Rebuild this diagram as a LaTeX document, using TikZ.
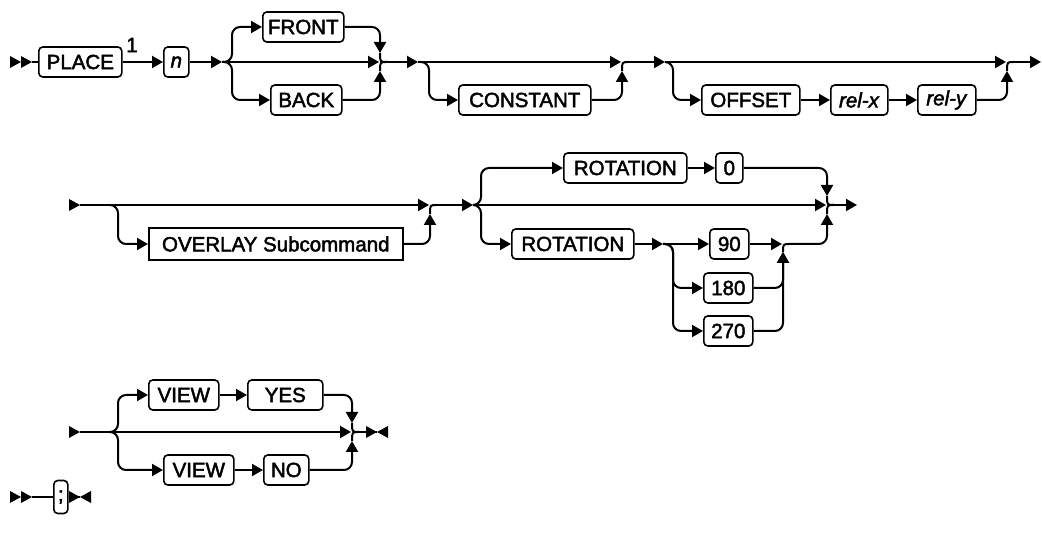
\documentclass[tikz,border=0pt]{standalone}
\usepackage{fontspec}
\setmainfont{Liberation Sans}[FakeBold=2.2]
\usetikzlibrary{arrows.meta,calc}

\tikzset{
	kw/.style={draw, line width=1.6pt, rounded corners=4pt, minimum height=30pt,
		inner sep=0pt, anchor=west, font=\fontsize{20.5}{23}\selectfont},
	subcmd/.style={kw, rounded corners=0pt, minimum height=32pt},
	rail/.style={line width=2pt},
	go/.style={rail, -{Triangle[length=11pt,width=12pt]}},
	turn/.style={go, rounded corners=8pt},
	tri/.pic={\fill (-11,-6) -- (0,0) -- (-11,6) -- cycle;}
}

\begin{document}
\begin{tikzpicture}[x=1pt, y=1pt]
	
	\useasboundingbox (0,0) rectangle (1042,548);
	
	% Fila 1: PLACE n FRONT/BACK CONSTANT OFFSET
	\node[kw, minimum width=83pt] (PLACE) at (38,486) {PLACE};
	\node[font=\fontsize{20.5}{23}\selectfont] (nota) at (132,503) {1};
	\node[kw, minimum width=25pt] (n) at (163,486) {\textit{n}};
	\node[kw, minimum width=81pt] (FRONT) at (262,521) {FRONT};
	\node[kw, minimum width=71pt] (BACK) at (270,448) {BACK};
	\node[kw, minimum width=132pt] (CONST) at (458,448) {CONSTANT};
	\node[kw, minimum width=98pt] (OFFSET) at (701,448) {OFFSET};
	\node[kw, minimum width=57pt] (relx) at (830,448) {\textit{rel-x}};
	\node[kw, minimum width=58pt] (rely) at (917,448) {\textit{rel-y}};
	
	\coordinate (s1) at (222,486);
	\coordinate (j1) at (380,486);
	\coordinate (s2) at (418,486);
	\coordinate (j2) at (622,486);
	\coordinate (s3) at (665,486);
	\coordinate (j3) at (1007,486);
	\coordinate (e1) at (1041,486);
	
	% Inicio
	\pic at (21,486) {tri};
	\pic at (32,486) {tri};
	\draw[rail] (32,486) -- (PLACE.west);
	\draw[go] (PLACE.east) -- (n.west);
	\draw[go] (n.east) -- (s1);
	
	% FRONT / BACK
	\draw[go] (s1) -- ($(j1)+(-1,0)$);
	\draw[turn] (s1) -- ++(10,0) |- (FRONT.west);
	\draw[turn] (s1) -- ++(10,0) |- (BACK.west);
	\draw[turn] (FRONT.east) -| ($(j1)+(0,9)$);
	\draw[turn] (BACK.east) -| ($(j1)+(0,-9)$);
	\draw[rail] ($(j1)+(0,9)$) .. controls (j1) .. ($(j1)+(7,0)$);
	\draw[rail] ($(j1)+(0,-9)$) .. controls (j1) .. ($(j1)+(7,0)$);
	\draw[go] ($(j1)+(7,0)$) -- (s2);
	
	% CONSTANT
	\draw[go] (s2) -- ($(j2)+(-1,0)$);
	\draw[turn] (s2) -- ++(11,0) |- (CONST.west);
	\draw[turn] (CONST.east) -| ($(j2)+(0,-9)$);
	\draw[rail] ($(j2)+(0,-9)$) .. controls (j2) .. ($(j2)+(7,0)$);
	\draw[go] ($(j2)+(7,0)$) -- (s3);
	
	% OFFSET rel-x rel-y
	\draw[go] (s3) -- ($(j3)+(-1,0)$);
	\draw[turn] (s3) -- ++(8,0) |- (OFFSET.west);
	\draw[go] (OFFSET.east) -- (relx.west);
	\draw[go] (relx.east) -- (rely.west);
	\draw[turn] (rely.east) -| ($(j3)+(0,-9)$);
	\draw[rail] ($(j3)+(0,-9)$) .. controls (j3) .. ($(j3)+(7,0)$);
	\draw[go] ($(j3)+(7,0)$) -- (e1);
	
	% Fila 2: OVERLAY y ROTATION
	\node[subcmd, minimum width=254pt] (OVER) at (148,304) {OVERLAY Subcommand};
	\node[kw, minimum width=123pt] (ROTa) at (563,380) {ROTATION};
	\node[kw, minimum width=27pt] (zero) at (715,380) {0};
	\node[kw, minimum width=122pt] (ROTb) at (511,304) {ROTATION};
	\node[kw, minimum width=39pt] (n90) at (709,304) {90};
	\node[kw, minimum width=49pt] (n180) at (703,260) {180};
	\node[kw, minimum width=49pt] (n270) at (703,217) {270};
	
	\coordinate (b2) at (80,343);
	\coordinate (s4) at (110,343);
	\coordinate (j4) at (430,343);
	\coordinate (s5) at (473,343);
	\coordinate (s6) at (663,304);
	\coordinate (j6) at (783,304);
	\coordinate (j5) at (827,343);
	\coordinate (e2) at (857,343);
	
	\pic at (b2) {tri};
	
	% OVERLAY
	\draw[go] (b2) -- ($(j4)+(-1,0)$);
	\draw[turn] (s4) -- ++(8,0) |- (OVER.west);
	\draw[turn] (OVER.east) -| ($(j4)+(0,-9)$);
	\draw[rail] ($(j4)+(0,-9)$) .. controls (j4) .. ($(j4)+(7,0)$);
	\draw[go] ($(j4)+(7,0)$) -- (s5);
	
	% ROTATION
	\draw[go] (s5) -- ($(j5)+(-1,0)$);
	\draw[turn] (s5) -- ++(8,0) |- (ROTa.west);
	\draw[turn] (s5) -- ++(8,0) |- (ROTb.west);
	\draw[go] (ROTa.east) -- (zero.west);
	\draw[go] (ROTb.east) -- (s6);
	
	% 90 / 180 / 270
	\draw[go] (s6) -- (n90.west);
	\draw[turn] (s6) -- ++(10,0) |- (n180.west);
	\draw[turn] (s6) -- ++(10,0) |- (n270.west);
	\draw[go] (n90.east) -- ($(j6)+(-1,0)$);
	\draw[turn] (n180.east) -| ($(j6)+(0,-8)$);
	\draw[turn] (n270.east) -| ($(j6)+(0,-8)$);
	\draw[rail] ($(j6)+(0,-8)$) .. controls (j6) .. ($(j6)+(7,0)$);
	
	% Union final fila 2
	\draw[turn] (zero.east) -| ($(j5)+(0,9)$);
	\draw[turn] ($(j6)+(7,0)$) -| ($(j5)+(0,-9)$);
	\draw[rail] ($(j5)+(0,9)$) .. controls (j5) .. ($(j5)+(7,0)$);
	\draw[rail] ($(j5)+(0,-9)$) .. controls (j5) .. ($(j5)+(7,0)$);
	\draw[go] ($(j5)+(7,0)$) -- (e2);
	
	% Fila 3: VIEW
	\node[kw, minimum width=70pt] (VIEWa) at (148,153) {VIEW};
	\node[kw, minimum width=75pt] (YES) at (247,153) {YES};
	\node[kw, minimum width=70pt] (VIEWb) at (163,78) {VIEW};
	\node[kw, minimum width=45pt] (NO) at (263,78) {NO};
	
	\coordinate (b3) at (80,116);
	\coordinate (s7) at (110,116);
	\coordinate (j7) at (352,116);
	\coordinate (e3) at (377,116);
	
	\pic at (b3) {tri};
	\draw[go] (b3) -- ($(j7)+(-1,0)$);
	\draw[turn] (s7) -- ++(8,0) |- (VIEWa.west);
	\draw[turn] (s7) -- ++(8,0) |- (VIEWb.west);
	\draw[go] (VIEWa.east) -- (YES.west);
	\draw[go] (VIEWb.east) -- (NO.west);
	\draw[turn] (YES.east) -| ($(j7)+(0,9)$);
	\draw[turn] (NO.east) -| ($(j7)+(0,-9)$);
	\draw[rail] ($(j7)+(0,9)$) .. controls (j7) .. ($(j7)+(7,0)$);
	\draw[rail] ($(j7)+(0,-9)$) .. controls (j7) .. ($(j7)+(7,0)$);
	\draw[rail] ($(j7)+(7,0)$) -- (e3);
	\pic at (e3) {tri};
	\pic[xscale=-1] at (e3) {tri};
	
	% Fila 4: ;
	\node[kw, minimum width=14pt, minimum height=33pt] (semi) at (53,51) {;};
	\coordinate (e4) at (80,51);
	\pic at (21,51) {tri};
	\pic at (32,51) {tri};
	\draw[rail] (32,51) -- (semi.west);
	\draw[rail] (semi.east) -- (e4);
	\pic at (e4) {tri};
	\pic[xscale=-1] at (e4) {tri};
	
\end{tikzpicture}
\end{document}
